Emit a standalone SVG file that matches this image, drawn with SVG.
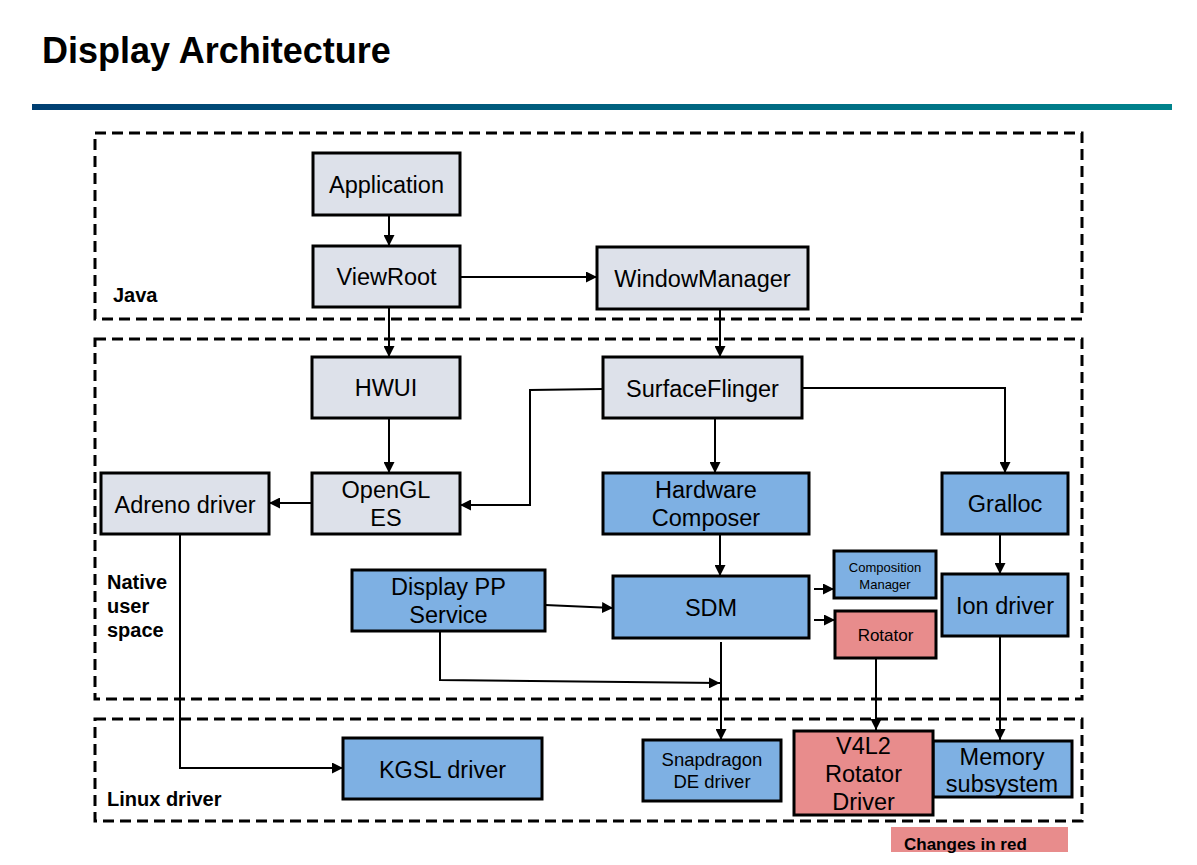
<svg xmlns="http://www.w3.org/2000/svg" width="1197" height="865" viewBox="0 0 1197 865">
<style>
text{font-family:"Liberation Sans",Arial,sans-serif;fill:#000}
.t{font-size:23.5px;text-anchor:middle}
.s{font-size:18.5px;text-anchor:middle}
.lab{font-size:20px;font-weight:bold}
.g rect{fill:#dde1ea;stroke:#000;stroke-width:3}
.b rect{fill:#7eb0e3;stroke:#000;stroke-width:3}
.r rect{fill:#e88c8c;stroke:#000;stroke-width:3}
.zone{fill:none;stroke:#000;stroke-width:3;stroke-dasharray:11 6}
.c path{fill:none;stroke:#000;stroke-width:2}
</style>
<defs>
<linearGradient id="bar" x1="0" y1="0" x2="1" y2="0">
<stop offset="0" stop-color="#003f72"/>
<stop offset="1" stop-color="#00838c"/>
</linearGradient>
<marker id="a" viewBox="0 0 10 10" refX="10" refY="5" markerWidth="5.5" markerHeight="5.5" orient="auto" markerUnits="strokeWidth">
<path d="M0,0 L10,5 L0,10 Z" fill="#000"/>
</marker>
</defs>
<rect width="1197" height="865" fill="#fff"/>
<text x="42" y="63" style="font-size:36px;font-weight:bold">Display Architecture</text>
<rect x="32" y="104" width="1140" height="6" fill="url(#bar)"/>

<g id="zones">
<rect class="zone" x="95" y="133" width="987" height="186"/>
<rect class="zone" x="95" y="339" width="987" height="360"/>
<rect class="zone" x="95" y="719" width="987" height="102"/>
<text class="lab" x="113" y="302">Java</text>
<text class="lab" x="107" y="589">Native</text>
<text class="lab" x="107" y="613">user</text>
<text class="lab" x="107" y="637">space</text>
<text class="lab" x="107" y="806">Linux driver</text>
</g>

<g id="connectors" class="c">
<path d="M389,215 V246" marker-end="url(#a)"/>
<path d="M460,277 H597" marker-end="url(#a)"/>
<path d="M389,307 V357" marker-end="url(#a)"/>
<path d="M720,309 V357" marker-end="url(#a)"/>
<path d="M389,418 V473" marker-end="url(#a)"/>
<path d="M312,503 H269" marker-end="url(#a)"/>
<path d="M603,389 L530,390 V505 H460" marker-end="url(#a)"/>
<path d="M803,388 H1005 V473" marker-end="url(#a)"/>
<path d="M715,418 V473" marker-end="url(#a)"/>
<path d="M720,534 V576" marker-end="url(#a)"/>
<path d="M814,589 H834" marker-end="url(#a)"/>
<path d="M814,620 H835" marker-end="url(#a)"/>
<path d="M1000,534 V574" marker-end="url(#a)"/>
<path d="M545,605 L613,608" marker-end="url(#a)"/>
<path d="M440,631 V680 L720,683" marker-end="url(#a)"/>
<path d="M721,642 V740" marker-end="url(#a)"/>
<path d="M180,534 V768 H343" marker-end="url(#a)"/>
<path d="M876,658 V730" marker-end="url(#a)"/>
<path d="M1000,636 V740" marker-end="url(#a)"/>
</g>

<g id="application" class="g"><rect x="313" y="153" width="147" height="62"/><text class="t" x="386.5" y="193">Application</text></g>
<g id="viewroot" class="g"><rect x="313" y="246" width="147" height="61"/><text class="t" x="386.5" y="285">ViewRoot</text></g>
<g id="windowmanager" class="g"><rect x="597" y="247" width="211" height="62"/><text class="t" x="702.5" y="287">WindowManager</text></g>
<g id="hwui" class="g"><rect x="312" y="357" width="148" height="61"/><text class="t" x="386" y="396">HWUI</text></g>
<g id="surfaceflinger" class="g"><rect x="603" y="357" width="199" height="61"/><text class="t" x="702.5" y="397">SurfaceFlinger</text></g>
<g id="opengl" class="g"><rect x="312" y="473" width="148" height="61"/><text class="t" x="386" y="498">OpenGL</text><text class="t" x="386" y="526">ES</text></g>
<g id="adreno" class="g"><rect x="101" y="473" width="168" height="61"/><text class="t" x="185" y="513">Adreno driver</text></g>
<g id="hwc" class="b"><rect x="603" y="473" width="206" height="61"/><text class="t" x="706" y="498">Hardware</text><text class="t" x="706" y="526">Composer</text></g>
<g id="gralloc" class="b"><rect x="942" y="473" width="126" height="61"/><text class="t" x="1005" y="512">Gralloc</text></g>
<g id="compmgr" class="b"><rect x="834" y="551" width="102" height="47"/><text x="885" y="572" style="font-size:13px;text-anchor:middle">Composition</text><text x="885" y="589" style="font-size:13px;text-anchor:middle">Manager</text></g>
<g id="sdm" class="b"><rect x="613" y="576" width="196" height="62"/><text class="t" x="711" y="616">SDM</text></g>
<g id="ion" class="b"><rect x="942" y="574" width="126" height="62"/><text class="t" x="1005" y="614">Ion driver</text></g>
<g id="rotator" class="r"><rect x="835" y="611" width="101" height="47"/><text x="885.5" y="641" style="font-size:17px;text-anchor:middle">Rotator</text></g>
<g id="displaypp" class="b"><rect x="352" y="570" width="193" height="61"/><text class="t" x="448.5" y="595">Display PP</text><text class="t" x="448.5" y="623">Service</text></g>
<g id="kgsl" class="b"><rect x="343" y="738" width="199" height="61"/><text class="t" x="442.5" y="778">KGSL driver</text></g>
<g id="snapdragon" class="b"><rect x="643" y="740" width="138" height="61"/><text class="s" x="712" y="766">Snapdragon</text><text class="s" x="712" y="788">DE driver</text></g>
<g id="memory" class="b"><rect x="933" y="741" width="139" height="56"/><text class="t" x="1002" y="765">Memory</text><text class="t" x="1002" y="792">subsystem</text></g>
<g id="v4l2" class="r"><rect x="794" y="731" width="139" height="84"/><text class="t" x="863.5" y="754">V4L2</text><text class="t" x="863.5" y="782">Rotator</text><text class="t" x="863.5" y="810">Driver</text></g>
<g id="legend"><rect x="891" y="827" width="177" height="25" fill="#e88c8c"/><text x="904" y="850" style="font-size:17px;font-weight:bold">Changes in red</text></g>
</svg>
